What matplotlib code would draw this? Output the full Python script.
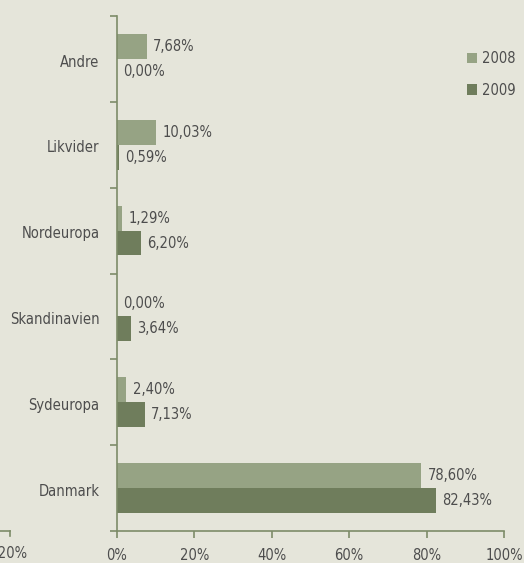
import numpy as np
import matplotlib.pyplot as plt
from matplotlib.lines import Line2D

plt.rcParams['font.family'] = ['DejaVu Sans']
plt.rcParams['font.stretch'] = 'condensed'

# data
categories = ['Andre', 'Likvider', 'Nordeuropa', 'Skandinavien', 'Sydeuropa', 'Danmark']
v2008 = [7.68, 10.03, 1.29, 0.00, 2.40, 78.60]
v2009 = [0.00, 0.59, 6.20, 3.64, 7.13, 82.43]
years = ['2008', '2009']
xticks = [0, 20, 40, 60, 80, 100]

bg = '#e5e5da'
c08 = '#96a384'
c09 = '#6f7d5c'
axc = '#7d8c68'
txt = '#4d4d4d'
fs = 10.5

fig = plt.figure(figsize=(5.24, 5.63), dpi=100, facecolor=bg)
W, H = 524, 563
ax = fig.add_axes([117 / W, 1 - 531 / H, (504 - 117) / W, (531 - 16) / H], facecolor=bg)

y = np.arange(len(categories))
h = 0.29
b1 = ax.barh(y - h / 2, v2008, height=h, color=c08, label=years[0])
b2 = ax.barh(y + h / 2, v2009, height=h, color=c09, label=years[1])

for bars, vals in ((b1, v2008), (b2, v2009)):
    for bar, v in zip(bars, vals):
        ax.annotate(f'{v:.2f}%'.replace('.', ','),
                    (bar.get_width(), bar.get_y() + bar.get_height() / 2),
                    xytext=(4.5, 0), textcoords='offset points',
                    va='center', ha='left', fontsize=fs, color=txt)

ax.set_xlim(0, 100)
ax.set_ylim(len(categories) - 0.5, -0.5)

ax.set_xticks(xticks)
ax.set_xticklabels([f'{t}%' for t in xticks], fontsize=fs, color=txt)
ax.set_yticks(np.arange(len(categories) + 1) - 0.5)
ax.set_yticklabels([])
ax.set_yticks(y + 0.02, minor=True)
ax.set_yticklabels(categories, minor=True, fontsize=fs, color=txt)
ax.tick_params(axis='y', which='minor', length=0, pad=12.5)
ax.tick_params(axis='both', which='major', length=5, width=1.2, color=axc)
ax.tick_params(axis='x', pad=7)

for s in ('top', 'right'):
    ax.spines[s].set_visible(False)
for s in ('left', 'bottom'):
    ax.spines[s].set_color(axc)
    ax.spines[s].set_linewidth(1.2)

# leftover piece of the axis at the far left
yb = 1 - 531 / H
fig.add_artist(Line2D([0, 10 / W], [yb, yb], color=axc, lw=1.2))
fig.add_artist(Line2D([10 / W, 10 / W], [yb, yb - 5 / H], color=axc, lw=1.2))
fig.text(10 / W, 1 - 553 / H, '-20%', ha='center', va='center', fontsize=fs, color=txt)

leg = ax.legend(loc='upper left', bbox_to_anchor=((461 - 117) / (504 - 117), 1 - 29 / (531 - 16)),
                frameon=False, fontsize=fs, handlelength=0.7, handleheight=0.7,
                handletextpad=0.35, labelspacing=1.15, borderaxespad=0)
for t in leg.get_texts():
    t.set_color(txt)

fig.savefig('out.png', dpi=100, facecolor=bg)
